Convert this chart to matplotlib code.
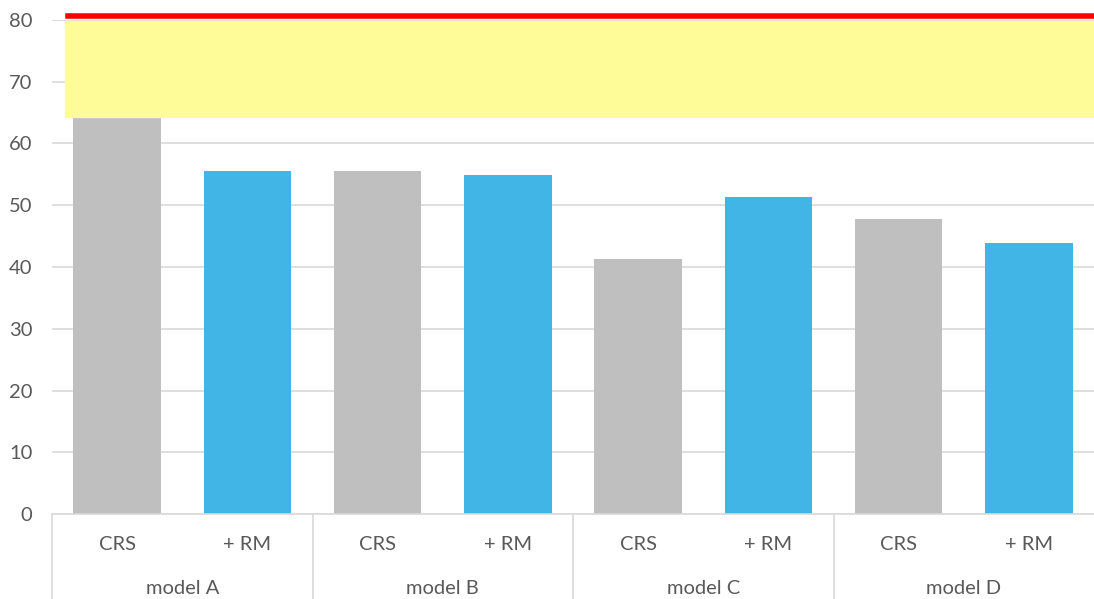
import matplotlib
matplotlib.use("Agg")
import matplotlib.pyplot as plt
import matplotlib.transforms as mtransforms

# values
groups = ["model A", "model B", "model C", "model D"]
sub_labels = ["CRS", "+ RM"]
crs_vals = [64.1, 55.5, 41.3, 47.8]
rm_vals = [55.5, 54.9, 51.3, 43.9]
band_low = 64.3
band_high = 79.8
red_level = 80.6

plt.rcParams["font.family"] = ["Lato", "DejaVu Sans"]
txt_col = "#595959"
grid_col = "#D9D9D9"

fig = plt.figure(figsize=(10.94, 5.99), dpi=100)
W, H = 1094, 599
left, right, top, bottom = 52, 1094, 20, 514
ax = fig.add_axes([left / W, 1 - bottom / H, (right - left) / W, (bottom - top) / H])

# interleave CRS / +RM bars
xs, heights, colors = [], [], []
for i in range(len(groups)):
    xs += [2 * i, 2 * i + 1]
    heights += [crs_vals[i], rm_vals[i]]
    colors += ["#BFBFBF", "#41B5E5"]
ax.bar(xs, heights, width=0.67, color=colors, zorder=2)

ax.set_xlim(-0.5, 7.5)
ax.set_ylim(0, 80)
ax.set_yticks(range(0, 81, 10))
ax.yaxis.grid(True, color=grid_col, linewidth=1.2, zorder=0)
ax.tick_params(axis="y", length=0, pad=14, labelsize=14.5, labelcolor=txt_col)
ax.set_xticks([])
for s in ["top", "right", "left"]:
    ax.spines[s].set_visible(False)
ax.spines["bottom"].set_color(grid_col)
ax.spines["bottom"].set_linewidth(1.2)

# highlighted band and red limit line
ax.axhspan(band_low, band_high, xmin=13 / 1042, xmax=1, color="#FDFC99", zorder=3)
ax.axhline(red_level, xmin=16 / 1042, xmax=1, color="#FF0000", linewidth=4, zorder=4, clip_on=False)

# two-level category axis
trans = mtransforms.blended_transform_factory(ax.transData, ax.transAxes)
depth = -85 / (bottom - top)
for i, g in enumerate(groups):
    ax.plot([2 * i - 0.5, 2 * i - 0.5], [0, depth], color=grid_col, lw=1.2,
            transform=trans, clip_on=False)
    for j, lab in enumerate(sub_labels):
        ax.text(2 * i + j, -31 / (bottom - top), lab, transform=trans, ha="center", va="center",
                fontsize=14.5, color=txt_col)
    ax.text(2 * i + 0.5, -74 / (bottom - top), g, transform=trans, ha="center", va="center",
            fontsize=14.5, color=txt_col)

fig.savefig("out.png", dpi=100)
